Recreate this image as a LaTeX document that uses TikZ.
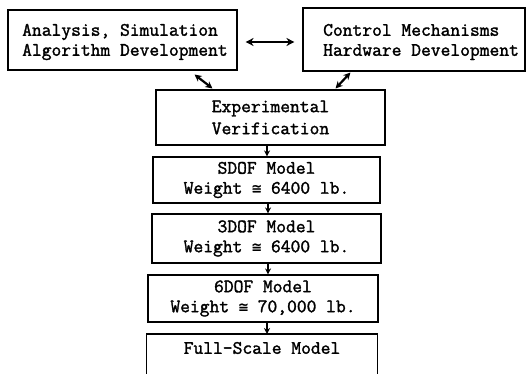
\documentclass[tikz,border=0pt]{standalone}
\usepackage{fontspec}
\setmonofont[AutoFakeBold=1.6]{Latin Modern Mono}
\newfontfamily\symf[AutoFakeBold=1.6]{DejaVu Sans Mono}
\usetikzlibrary{arrows.meta}
\newcommand{\cgt}{{\symf\fontsize{15}{20}\selectfont\char"2245}}
\begin{document}
\begin{tikzpicture}[x=1pt,y=-1pt,
  every node/.style={font=\ttfamily\bfseries\fontsize{19}{20}\selectfont, inner sep=0pt},
  box/.style={draw, line width=1.1pt, minimum width=#1},
  txt/.style={align=left, anchor=west},
  arr/.style={-{Stealth[length=6pt,width=6pt]}, line width=1.1pt},
  darr/.style={{Stealth[length=8pt,width=8pt]}-{Stealth[length=8pt,width=8pt]}, line width=1.6pt},
  ddarr/.style={{Stealth[length=7pt,width=7pt]}-{Stealth[length=7pt,width=7pt]}, line width=2.2pt}]
\useasboundingbox (0,0) rectangle (529,374);
\node[box=229pt, minimum height=60pt] (a) at (122.5,40) {};
\node[txt] (at) at (22,42) {Analysis, Simulation\\Algorithm Development};
\node[box=222pt, minimum height=63pt] (b) at (414,39.5) {};
\node[txt] (bt) at (323,42) {Control Mechanisms\\Hardware Development};
\node[box=229pt, minimum height=55pt, align=center] (c) at (270.5,117.5) {Experimental\\[2pt]Verification};
\node[box=227pt, minimum height=46pt, align=center] (d) at (266.5,180) {SDOF Model\\Weight \cgt{} 6400 lb.};
\node[box=229pt, minimum height=49pt, align=center] (e) at (266.5,238.5) {3DOF Model\\Weight \cgt{} 6400 lb.};
\node[box=230pt, minimum height=47pt, align=center] (f) at (263,298.5) {6DOF Model\\Weight \cgt{} 70,000 lb.};
\node[minimum width=230pt, minimum height=60pt, anchor=north] (g) at (262,334) {};
\node (gt) at (262,348) {Full-Scale Model};
\draw[line width=1.1pt] (g.south west) -- (g.north west) -- (g.north east) -- (g.south east);
\draw[darr, shorten <=8pt, shorten >=8pt] (a.east |- 0,42) -- (b.west |- 0,42);
\draw[ddarr] ([xshift=-43pt,yshift=-4pt]a.south east) -- ([xshift=57pt,yshift=1pt]c.north west);
\draw[ddarr] ([xshift=48pt,yshift=-1pt]b.south west) -- ([xshift=-50pt,yshift=1pt]c.north east);
\draw[arr] (c.south -| 267,0) -- (d.north -| 267,0);
\draw[arr] (d.south -| 268,0) -- (e.north -| 268,0);
\draw[arr] (e.south -| 268,0) -- (f.north -| 268,0);
\draw[arr] (f.south -| 267,0) -- (g.north -| 267,0);
\end{tikzpicture}
\end{document}
